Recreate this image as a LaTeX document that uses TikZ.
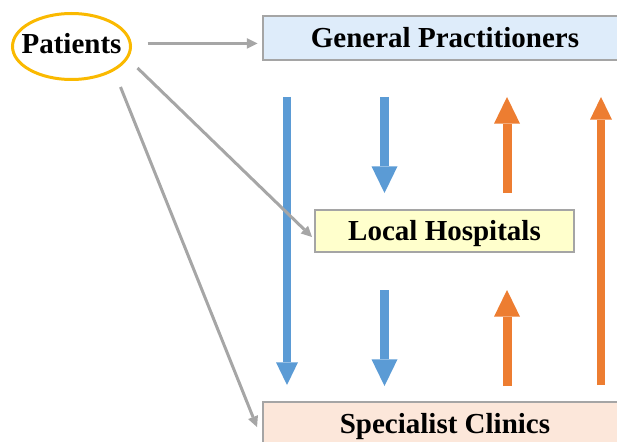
\documentclass[tikz,border=0pt]{standalone}
\usepackage{fontspec}
\setmainfont{Liberation Serif}
\usetikzlibrary{shapes.geometric,arrows.meta}
\definecolor{flowblue}{RGB}{91,155,213}
\definecolor{floworange}{RGB}{237,125,49}
\definecolor{visitgray}{RGB}{166,166,166}
\definecolor{boxgray}{RGB}{165,165,165}
\definecolor{patgold}{RGB}{250,185,0}
\definecolor{gpfill}{RGB}{222,236,250}
\definecolor{lhfill}{RGB}{255,255,204}
\definecolor{scfill}{RGB}{252,231,218}
\tikzstyle{bigbold} = [font=\bfseries\fontsize{21.75}{26}\selectfont, text height=14.4pt, text depth=0pt]
\tikzstyle{carebox} = [rectangle, draw=boxgray, line width=1.5pt, inner sep=0pt, bigbold]
\tikzstyle{visit} = [draw=visitgray, line width=2.25pt, -{Triangle[width=8pt,length=8pt,line width=0pt]}]
\tikzstyle{blueflow} = [draw=flowblue, line width=6.75pt, -{Triangle[width=19.5pt,length=20pt,line width=0pt]}]
\tikzstyle{orangeflow} = [draw=floworange, line width=6.75pt, -{Triangle[width=19.5pt,length=20pt,line width=0pt]}]
\tikzstyle{longflow} = [line width=6pt, -{Triangle[width=16.5pt,length=17pt,line width=0pt]}]

\begin{document}
\begin{tikzpicture}[x=0.75pt,y=-0.75pt]
    \useasboundingbox (0,0) rectangle (617,442);
    \clip (0,0) rectangle (617,442);

    \node[carebox, fill=gpfill, minimum width=273pt, minimum height=33pt] (gp) at (445,38) {General Practitioners};
    \node[carebox, fill=lhfill, minimum width=194.25pt, minimum height=31.5pt] (lh) at (444.5,231) {Local Hospitals};
    \node[carebox, fill=scfill, minimum width=273pt, minimum height=33pt] (sc) at (445,424) {Specialist Clinics};
    \node[ellipse, draw=patgold, line width=2.25pt, minimum width=88.5pt, minimum height=49.5pt,
          label={[bigbold, yshift=2.25pt]center:Patients}] (pat) at (71.5,46.5) {};

    \coordinate (colA) at (287,0);
    \coordinate (colB) at (384.5,0);
    \coordinate (colC) at (507,0);
    \coordinate (colD) at (601,0);

    % referrals down
    \draw[blueflow, longflow, shorten <=27pt, shorten >=12pt] (gp.south -| colA) -- (sc.north -| colA);
    \draw[blueflow, shorten <=27pt, shorten >=12pt] (gp.south -| colB) -- (lh.north -| colB);
    \draw[blueflow, shorten <=27.75pt, shorten >=11.25pt] (lh.south -| colB) -- (sc.north -| colB);

    % back up
    \draw[orangeflow, shorten <=12pt, shorten >=27pt] (lh.north -| colC) -- (gp.south -| colC);
    \draw[orangeflow, shorten <=11.25pt, shorten >=27.75pt] (sc.north -| colC) -- (lh.south -| colC);
    \draw[orangeflow, longflow, shorten <=12pt, shorten >=27pt] (sc.north -| colD) -- (gp.south -| colD);

    \draw[visit] ([shift={(15.5,-3)}]pat.east) -- ([shift={(-4.5,5.5)}]gp.west);
    \draw[visit] ([shift={(5.5,21.5)}]pat.east) -- ([shift={(-2,6)}]lh.west);
    \draw[visit] ([shift={(-11.5,40.5)}]pat.east) -- ([shift={(-5,3)}]sc.west);
\end{tikzpicture}
\end{document}
